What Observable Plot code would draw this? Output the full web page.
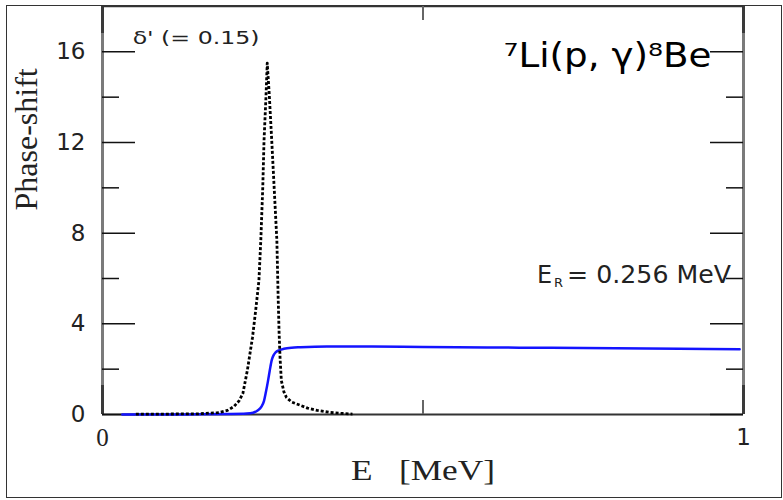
<!DOCTYPE html>
<html>
<head>
<meta charset="utf-8">
<script src="https://cdn.jsdelivr.net/npm/d3@7"></script>
<script src="https://cdn.jsdelivr.net/npm/@observablehq/plot@0.6"></script>
<style>
  html, body { margin: 0; padding: 0; background: #fff; }
  #chart { position: relative; width: 783px; height: 500px; }
  #chart svg { display: block; }
  #box { position: absolute; box-sizing: border-box; left: 6px; top: 5px; width: 776px; height: 493px; border: 1.5px solid #333; pointer-events: none; }
</style>
</head>
<body>
<div id="chart"><div id="box"></div></div>
<script>
// δ' (derivative of the phase shift), dotted curve
const energyPrime = [0.052, 0.10, 0.15, 0.18, 0.195, 0.205, 0.213, 0.219, 0.226, 0.234, 0.239, 0.244, 0.247, 0.250, 0.252, 0.255, 0.257, 0.260, 0.264, 0.268, 0.272, 0.274, 0.2755, 0.277, 0.279, 0.283, 0.287, 0.295, 0.309, 0.32, 0.335, 0.355, 0.372, 0.39];
const deltaPrime   = [0.02, 0.02, 0.03, 0.08, 0.18, 0.35, 0.6, 0.93, 1.95, 3.4, 4.6, 5.9, 7.7, 10.0, 12.1, 14.0, 15.5, 14.2, 12.1, 9.9, 7.7, 5.2, 3.6, 2.5, 1.5, 1.0, 0.75, 0.55, 0.4, 0.28, 0.18, 0.09, 0.05, 0.02];

// δ (phase shift), solid blue curve
const energyDelta = [0.031, 0.10, 0.15, 0.20, 0.225, 0.235, 0.242, 0.248, 0.252, 0.255, 0.258, 0.261, 0.264, 0.267, 0.270, 0.276, 0.283, 0.295, 0.309, 0.35, 0.42, 0.5, 0.6, 0.7, 0.8, 0.9, 0.994];
const delta       = [0.0, 0.0, 0.01, 0.02, 0.04, 0.08, 0.18, 0.35, 0.6, 1.0, 1.45, 1.95, 2.4, 2.62, 2.74, 2.84, 2.9, 2.95, 2.97, 3.0, 3.0, 2.98, 2.96, 2.94, 2.92, 2.9, 2.88];

const yMajorTicks = [0, 4, 8, 12, 16];
const yMinorTicks = [2, 6, 10, 14];
const xInnerTicks = [0.5];
const xTickLabels = [0, 1];

const xLabel = "E\u00a0\u00a0\u00a0[MeV]";
const yLabel = "Phase-shift";
const reactionLabel = "\u2077Li(p, \u03b3)\u2078Be";
const deltaPrimeLabel = "\u03b4' (= 0.15)";
const resonanceLabel = ["E", "R", "= 0.256 MeV"];

const W = 783, H = 500;
const M = {top: 6, right: 40, bottom: 86, left: 102};
const frameW = W - M.left - M.right;
const frameH = H - M.top - M.bottom;

const dotted = energyPrime.map((E, i) => ({E, v: deltaPrime[i]}));
const solid = energyDelta.map((E, i) => ({E, v: delta[i]}));

const serif = "'Liberation Serif', 'DejaVu Serif', serif";
const sans = "'DejaVu Sans', sans-serif";

const majorLen = 33, minorLen = 17, xTickLen = 14;

const plot = Plot.plot({
  width: W,
  height: H,
  marginTop: M.top,
  marginRight: M.right,
  marginBottom: M.bottom,
  marginLeft: M.left,
  x: {domain: [0, 1], axis: null},
  y: {domain: [0, 18], axis: null},
  style: {fontFamily: sans, background: "transparent", overflow: "visible"},
  marks: [
    // frame sides
    Plot.ruleX([0, 1], {x: d => d, stroke: "#7a7a7a", strokeWidth: 3}),
    Plot.ruleX([0, 1], {x: d => d, stroke: "#3a3a3a", strokeWidth: 3, insetBottom: frameH - 27}),
    Plot.ruleX([0, 1], {x: d => d, stroke: "#3a3a3a", strokeWidth: 3, insetTop: frameH - 29}),
    Plot.ruleY([0], {y: d => d, stroke: "#333", strokeWidth: 2}),
    Plot.ruleY([18], {y: d => d, stroke: "#333", strokeWidth: 1.5}),

    // inward ticks, left and right
    Plot.ruleY(yMajorTicks, {y: d => d, insetRight: frameW - majorLen, stroke: "#111", strokeWidth: 1.5}),
    Plot.ruleY(yMajorTicks, {y: d => d, insetLeft: frameW - majorLen, stroke: "#111", strokeWidth: 1.5}),
    Plot.ruleY(yMinorTicks, {y: d => d, insetRight: frameW - minorLen, stroke: "#111", strokeWidth: 1.5}),
    Plot.ruleY(yMinorTicks, {y: d => d, insetLeft: frameW - minorLen, stroke: "#111", strokeWidth: 1.5}),
    // inward ticks, bottom and top
    Plot.ruleX(xInnerTicks, {x: d => d, insetTop: frameH - xTickLen, stroke: "#666", strokeWidth: 2}),
    Plot.ruleX(xInnerTicks, {x: d => d, insetBottom: frameH - xTickLen, stroke: "#666", strokeWidth: 2}),

    // tick labels
    Plot.text(yMajorTicks, {y: d => d, frameAnchor: "left", dx: -17, textAnchor: "end", text: d => String(d), fontFamily: sans, fontSize: 23, fill: "#222"}),
    Plot.text([xTickLabels[0]], {x: d => d, frameAnchor: "bottom", dy: 31, text: d => String(d), fontFamily: serif, fontSize: 25, fill: "#222"}),
    Plot.text([xTickLabels[1]], {x: d => d, frameAnchor: "bottom", dy: 30, text: d => String(d), fontFamily: sans, fontSize: 23, fill: "#222"}),

    // axis titles
    Plot.text([yLabel], {frameAnchor: "left", dx: -76, rotate: -90, text: d => d, fontFamily: serif, fontSize: 32, fill: "#222"}),
    Plot.text([xLabel], {frameAnchor: "bottom", dy: 65, text: d => d, fontFamily: serif, fontSize: 29, fill: "#222"}),

    // curves
    Plot.line(solid, {x: "E", y: "v", stroke: "#1414ff", strokeWidth: 2.5, curve: "monotone-x"}),
    Plot.line(dotted, {x: "E", y: "v", stroke: "#000", strokeWidth: 2.8, strokeDasharray: "3,2", strokeLinecap: "butt", curve: "linear"}),

    // annotations
    Plot.text([deltaPrimeLabel], {x: 0.047, y: 16.6, textAnchor: "start", text: d => d, fontFamily: sans, fontSize: 17, fill: "#222"}),
    Plot.text([reactionLabel], {x: 0.95, y: 15.8, textAnchor: "end", text: d => d, fontFamily: sans, fontSize: 33, fill: "#000"}),
    Plot.text([resonanceLabel[0]], {x: 0.678, y: 6.13, textAnchor: "start", text: d => d, fontFamily: sans, fontSize: 24, fill: "#222"}),
    Plot.text([resonanceLabel[1]], {x: 0.678, y: 6.13, dx: 17, dy: 7, textAnchor: "start", text: d => d, fontFamily: sans, fontSize: 13, fill: "#222"}),
    Plot.text([resonanceLabel[2]], {x: 0.678, y: 6.13, dx: 30, textAnchor: "start", text: d => d, fontFamily: sans, fontSize: 24, fill: "#222"})
  ]
});

document.getElementById("chart").prepend(plot);

// widen a few labels horizontally to their set widths
function stretchTo(content, width) {
  d3.select(plot).selectAll("text")
    .filter(function() { return this.textContent === content; })
    .each(function() {
      const w = this.getComputedTextLength();
      if (!w) return;
      const t = this.getAttribute("transform") || "";
      this.setAttribute("transform", `${t} scale(${width / w},1)`);
    });
}
stretchTo(deltaPrimeLabel, 127);
stretchTo(reactionLabel, 208);
stretchTo(xLabel, 144);
stretchTo(resonanceLabel[2], 164);
</script>
</body>
</html>
